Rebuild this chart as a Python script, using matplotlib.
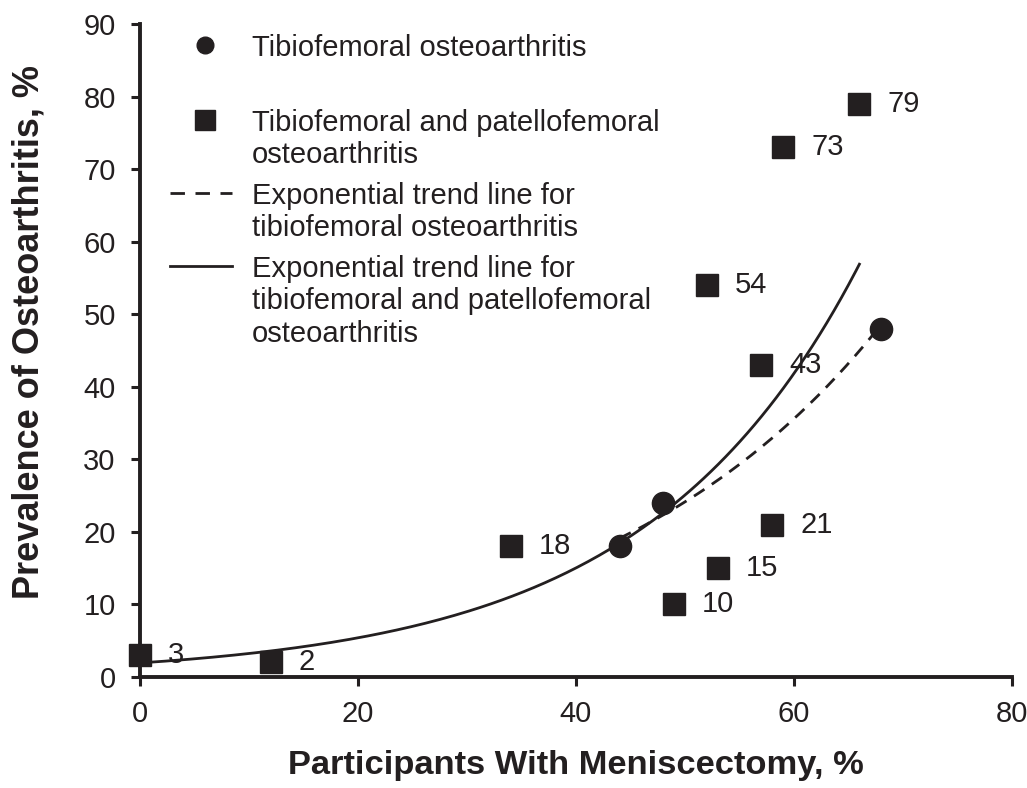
import numpy as np
import matplotlib.pyplot as plt

plt.rcParams['font.family'] = ['Liberation Sans', 'DejaVu Sans']

INK = '#231f20'

# tibiofemoral osteoarthritis (circles)
tf_x = [44, 48, 68]
tf_y = [18, 24, 48]

# tibiofemoral and patellofemoral osteoarthritis (squares)
tfpf_x = [0, 12, 34, 49, 53, 58, 57, 52, 59, 66]
tfpf_y = [3, 2, 18, 10, 15, 21, 43, 54, 73, 79]
tfpf_labels = ['3', '2', '18', '10', '15', '21', '43', '54', '73', '79']

x_ticks = [0, 20, 40, 60, 80]
y_ticks = [0, 10, 20, 30, 40, 50, 60, 70, 80, 90]

legend_labels = [
    'Tibiofemoral osteoarthritis',
    'Tibiofemoral and patellofemoral\nosteoarthritis',
    'Exponential trend line for\ntibiofemoral osteoarthritis',
    'Exponential trend line for\ntibiofemoral and patellofemoral\nosteoarthritis',
]

DASH = (0, (4.5, 3.2))


def exp_fit(x, y):
    # least squares on log(y), same as an exponential trend line
    b, a = np.polyfit(np.array(x, dtype=float), np.log(np.array(y, dtype=float)), 1)
    return np.exp(a), b


fig = plt.figure(figsize=(10.27, 7.88), dpi=100)
ax = fig.add_axes([0.1363, 0.1409, 0.8491, 0.8286])

# trend lines
a1, b1 = exp_fit(tfpf_x, tfpf_y)
xs = np.linspace(min(tfpf_x), max(tfpf_x), 200)
ax.plot(xs, a1 * np.exp(b1 * xs), color=INK, lw=2.0, zorder=2)

a2, b2 = exp_fit(tf_x, tf_y)
xs2 = np.linspace(min(tf_x), max(tf_x), 200)
ax.plot(xs2, a2 * np.exp(b2 * xs2), color=INK, lw=2.0, ls=DASH, zorder=2)

# points
ax.plot(tfpf_x, tfpf_y, 's', color=INK, ms=16, zorder=3, clip_on=False)
ax.plot(tf_x, tf_y, 'o', color=INK, ms=16, zorder=3, clip_on=False)

for x, y, lab in zip(tfpf_x, tfpf_y, tfpf_labels):
    ax.annotate(lab, (x, y), xytext=(28, 0), textcoords='offset pixels',
                ha='left', va='center', fontsize=21, color=INK)

ax.set_xlim(0, 80)
ax.set_ylim(0, 90)
ax.set_xticks(x_ticks)
ax.set_yticks(y_ticks)

for side in ['top', 'right']:
    ax.spines[side].set_visible(False)
for side in ['left', 'bottom']:
    ax.spines[side].set_linewidth(2.8)
    ax.spines[side].set_color(INK)
ax.tick_params(direction='out', length=6.5, width=2.2, colors=INK, labelsize=21)
ax.tick_params(axis='x', pad=10)
ax.tick_params(axis='y', pad=11)

ax.set_xlabel('Participants With Meniscectomy, %', fontsize=24.8, fontweight='bold', color=INK)
ax.set_ylabel('Prevalence of Osteoarthritis, %', fontsize=26, fontweight='bold', color=INK)
ax.xaxis.set_label_coords(0.5, -0.112)
ax.yaxis.set_label_coords(-0.107, 0.528)

# hand-made legend, rows placed in axes fractions
mark_y = [0.9678, 0.8530, 0.7412, 0.6294]
first_baseline = [0.9517, 0.8369, 0.7251, 0.6133]
line_step = 0.0498
ax.plot([0.0745], [mark_y[0]], 'o', ms=12, color=INK, transform=ax.transAxes)
ax.plot([0.0745], [mark_y[1]], 's', ms=14, color=INK, transform=ax.transAxes)
ax.plot([0.034, 0.1055], [mark_y[2]] * 2, ls=(0, (5.2, 3.8)), lw=2.0, color=INK,
        transform=ax.transAxes)
ax.plot([0.034, 0.1055], [mark_y[3]] * 2, ls='-', lw=2.0, color=INK, transform=ax.transAxes)
for lab, yy in zip(legend_labels, first_baseline):
    for i, line in enumerate(lab.split('\n')):
        ax.text(0.128, yy - i * line_step, line, transform=ax.transAxes,
                ha='left', va='baseline', fontsize=21, color=INK)

fig.savefig('out.png', dpi=100)
